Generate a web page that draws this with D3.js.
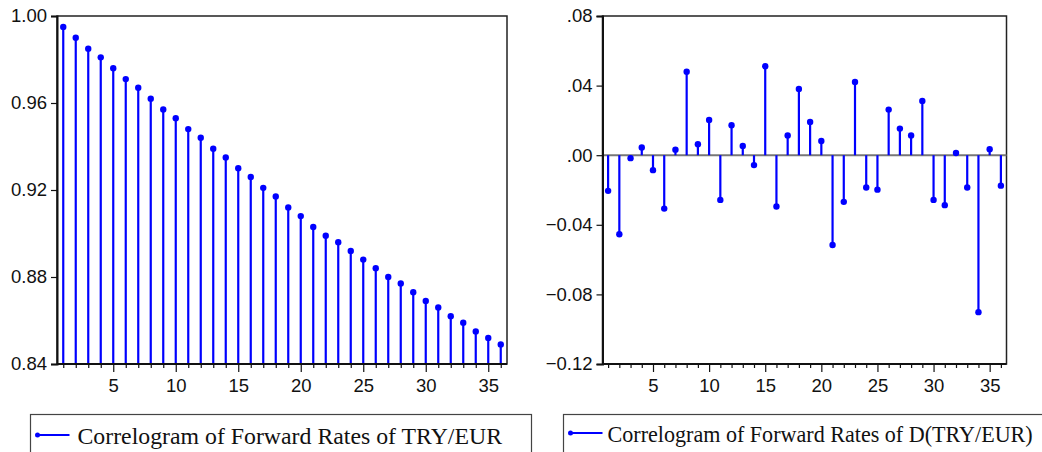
<!DOCTYPE html>
<html>
<head>
<meta charset="utf-8">
<script src="https://cdn.jsdelivr.net/npm/d3@7"></script>
<style>
  body { margin: 0; background: #fff; }
  svg { display: block; }
</style>
</head>
<body>
<div id="chart"></div>
<script>
// lags 1..36
var lags = d3.range(1, 37);

// autocorrelation of the level series
var acfLevel = [0.995, 0.990, 0.985, 0.981, 0.976, 0.971, 0.967, 0.962, 0.957, 0.953,
                0.948, 0.944, 0.939, 0.935, 0.930, 0.926, 0.921, 0.917, 0.912, 0.908,
                0.903, 0.899, 0.896, 0.892, 0.888, 0.884, 0.880, 0.877, 0.873, 0.869,
                0.866, 0.862, 0.859, 0.855, 0.852, 0.849];

// autocorrelation of the differenced series
var acfDiff = [-0.0205, -0.0454, -0.0017, 0.0044, -0.0086, -0.0307, 0.0032, 0.0480, 0.0063, 0.0203,
               -0.0257, 0.0172, 0.0053, -0.0057, 0.0511, -0.0295, 0.0113, 0.0381, 0.0191, 0.0082,
               -0.0516, -0.0268, 0.0421, -0.0186, -0.0198, 0.0262, 0.0153, 0.0113, 0.0312, -0.0257,
               -0.0287, 0.0013, -0.0186, -0.0902, 0.0034, -0.0175];

var leftTicks = [0.84, 0.88, 0.92, 0.96, 1.00];
var rightTicks = [-0.12, -0.08, -0.04, 0.00, 0.04, 0.08];
var xTicks = [5, 10, 15, 20, 25, 30, 35];

var leftLegend = "Correlogram of Forward Rates of TRY/EUR";
var rightLegend = "Correlogram of Forward Rates of D(TRY/EUR)";

var w = 1042, h = 452;
var blue = "#0000ff";

var svg = d3.select("#chart")
      .append("svg")
      .attr("width", w)
      .attr("height", h);

var noLead = function(d) {
  var s = d3.format(".2f")(d);
  return s.replace(/^(-?)0\./, "$1.");
};

var drawPanel = function(opt) {
  var x = d3.scaleLinear().domain([0.5, 36.5]).range([opt.left, opt.right]);
  var y = d3.scaleLinear().domain(opt.domain).range([opt.bottom, opt.top]);
  var g = svg.append("g");

  // frame (top / right)
  g.append("rect")
   .attr("x", opt.left)
   .attr("y", opt.top)
   .attr("width", opt.right - opt.left)
   .attr("height", opt.bottom - opt.top)
   .attr("fill", "none")
   .attr("stroke", "#222")
   .attr("stroke-width", 1.5);

  // zero line
  if (opt.zero) {
    g.append("line")
     .attr("x1", opt.left).attr("x2", opt.right)
     .attr("y1", y(0)).attr("y2", y(0))
     .attr("stroke", "#777")
     .attr("stroke-width", 2);
  }

  var base = opt.zero ? 0 : opt.domain[0];

  g.selectAll("line.stem")
   .data(opt.values)
   .enter()
   .append("line")
   .attr("class", "stem")
   .attr("x1", function(d, i) { return x(lags[i]); })
   .attr("x2", function(d, i) { return x(lags[i]); })
   .attr("y1", y(base))
   .attr("y2", function(d) { return y(d); })
   .attr("stroke", blue)
   .attr("stroke-width", 2.2);

  g.selectAll("circle")
   .data(opt.values)
   .enter()
   .append("circle")
   .attr("cx", function(d, i) { return x(lags[i]); })
   .attr("cy", function(d) { return y(d); })
   .attr("r", 3.2)
   .attr("fill", blue);

  // y axis
  var ya = g.append("g")
   .attr("transform", "translate(" + opt.left + ",0)")
   .call(d3.axisLeft(y).tickValues(opt.ticks).tickFormat(opt.fmt).tickSize(6).tickPadding(4));
  ya.select(".domain").attr("stroke", "#111").attr("stroke-width", 2);
  ya.selectAll(".tick line").attr("stroke", "#111").attr("stroke-width", 1.2);
  ya.selectAll("text")
    .attr("font-family", "'Liberation Sans', Arial, sans-serif")
    .attr("font-size", "18.5px")
    .attr("fill", "#111");

  // x axis: minor ticks at every lag, labels every 5
  var xa = g.append("g")
   .attr("transform", "translate(0," + opt.bottom + ")")
   .call(d3.axisBottom(x).tickValues(lags).tickSize(4)
         .tickFormat(function(d) { return xTicks.indexOf(d) >= 0 ? d : ""; }));
  xa.select(".domain").attr("stroke", "#111").attr("stroke-width", 2).attr("d",
     "M" + opt.left + ",0H" + opt.right);
  xa.selectAll(".tick line")
    .attr("stroke", "#111")
    .attr("stroke-width", 1.2)
    .attr("y2", function(d) { return xTicks.indexOf(d) >= 0 ? 8 : 4; });
  xa.selectAll("text")
    .attr("y", 15)
    .attr("font-family", "'Liberation Sans', Arial, sans-serif")
    .attr("font-size", "18.5px")
    .attr("fill", "#111");

  // legend
  var lg = g.append("g");
  lg.append("rect")
    .attr("x", opt.legX)
    .attr("y", 414.5)
    .attr("width", opt.legW)
    .attr("height", 50)
    .attr("fill", "none")
    .attr("stroke", "#444")
    .attr("stroke-width", 1.2);
  lg.append("line")
    .attr("x1", opt.legX + 6).attr("x2", opt.legX + 39)
    .attr("y1", opt.legY).attr("y2", opt.legY)
    .attr("stroke", blue)
    .attr("stroke-width", 2);
  lg.append("circle")
    .attr("cx", opt.legX + 7).attr("cy", opt.legY)
    .attr("r", 2.5)
    .attr("fill", blue);
  lg.append("text")
    .attr("x", opt.textX)
    .attr("y", opt.legY + 8.5)
    .attr("font-family", "'Liberation Serif', 'Times New Roman', serif")
    .attr("font-size", opt.legFont)
    .attr("fill", "#111")
    .text(opt.legend);
};

drawPanel({
  left: 57, right: 507, top: 16, bottom: 364,
  domain: [0.84, 1.00], ticks: leftTicks,
  fmt: d3.format(".2f"), values: acfLevel, zero: false,
  legX: 30.5, legW: 501, legY: 435, textX: 77.5, legFont: "23.8px", legend: leftLegend
});

drawPanel({
  left: 602.5, right: 1006.5, top: 16, bottom: 364,
  domain: [-0.12, 0.08], ticks: rightTicks,
  fmt: noLead, values: acfDiff, zero: true,
  legX: 563.5, legW: 490, legY: 433, textX: 607.5, legFont: "22.1px", legend: rightLegend
});
</script>
</body>
</html>
